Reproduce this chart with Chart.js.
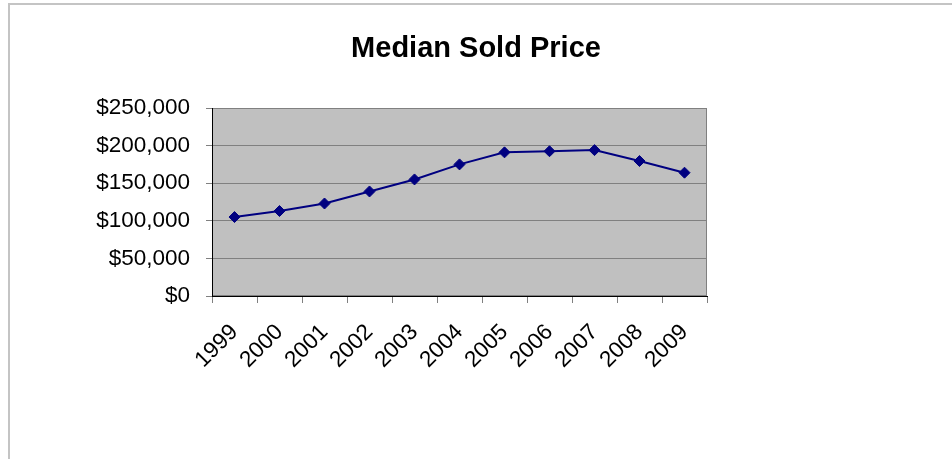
<!DOCTYPE html>
<html>
<head>
<meta charset="utf-8">
<script src="https://cdn.jsdelivr.net/npm/chart.js@4/dist/chart.umd.min.js"></script>
<style>
  html, body { margin: 0; padding: 0; background: #fff; overflow: hidden; }
  #frame { position: absolute; left: 8px; top: 3px; width: 1000px; height: 1000px;
           border-left: 2px solid #c4c4c4; border-top: 2px solid #c4c4c4; box-sizing: border-box; }
  #wrap { position: absolute; left: 0; top: 0; width: 952px; height: 459px; }
</style>
</head>
<body>
<div id="frame"></div>
<div id="wrap"><canvas id="c" width="952" height="459"></canvas></div>
<script>
const years = ["1999","2000","2001","2002","2003","2004","2005","2006","2007","2008","2009"];
const medianPrice = [105000, 113000, 123000, 139000, 155000, 175000, 191000, 192500, 194000, 179500, 164000];
const yTicks = [0, 50000, 100000, 150000, 200000, 250000];

const FONT = "'Liberation Sans', Arial, sans-serif";

const plotBg = {
  id: 'plotBg',
  beforeDraw(chart) {
    const {ctx, chartArea: a} = chart;
    ctx.save();
    ctx.fillStyle = '#c0c0c0';
    ctx.fillRect(a.left, a.top, a.right - a.left, a.bottom - a.top);
    ctx.strokeStyle = '#808080';
    ctx.lineWidth = 1;
    ctx.strokeRect(a.left + 0.5, a.top + 0.5, a.right - a.left - 1, a.bottom - a.top - 1);
    ctx.restore();
  }
};

new Chart(document.getElementById('c'), {
  type: 'line',
  data: {
    labels: years,
    datasets: [{
      label: 'Median Sold Price',
      data: medianPrice,
      borderColor: '#000080',
      backgroundColor: '#000080',
      borderWidth: 2,
      pointStyle: 'rectRot',
      pointRadius: 5.5,
      pointBorderWidth: 1,
      pointBorderColor: '#000080',
      pointBackgroundColor: '#000080',
      tension: 0,
      fill: false
    }]
  },
  options: {
    responsive: false,
    animation: false,
    devicePixelRatio: 1,
    layout: { padding: { left: 0, right: 0, top: 0, bottom: 0 } },
    plugins: {
      legend: { display: false },
      tooltip: { enabled: false },
      title: {
        display: true,
        text: 'Median Sold Price',
        color: '#000',
        font: { family: FONT, size: 29, weight: 'bold' },
        padding: { top: 32, bottom: 41.2 }
      }
    },
    scales: {
      x: {
        offset: true,
        grid: { offset: true, drawOnChartArea: false, drawTicks: true, tickLength: 7, color: '#808080' },
        border: { display: true, color: '#000', width: 1 },
        ticks: { color: '#000', font: { family: FONT, size: 22.5 }, minRotation: 45, maxRotation: 45, padding: 16, autoSkip: false },
        afterFit(s) { s.height = 163; }
      },
      y: {
        min: 0, max: 250000,
        afterBuildTicks(s) { s.ticks = yTicks.map(v => ({ value: v })); },
        grid: { color: '#808080', drawTicks: true, tickLength: 6 },
        border: { display: true, color: '#000', width: 1 },
        ticks: {
          color: '#000', font: { family: FONT, size: 22.5 }, padding: 16,
          callback: v => '$' + Number(v).toLocaleString('en-US')
        },
        afterFit(s) { s.width = 212; }
      },
      spacer: {
        position: 'right',
        display: true,
        grid: { display: false, drawTicks: false },
        border: { display: false },
        ticks: { display: false },
        afterFit(s) { s.width = 245; }
      }
    }
  },
  plugins: [plotBg]
});
</script>
</body>
</html>
